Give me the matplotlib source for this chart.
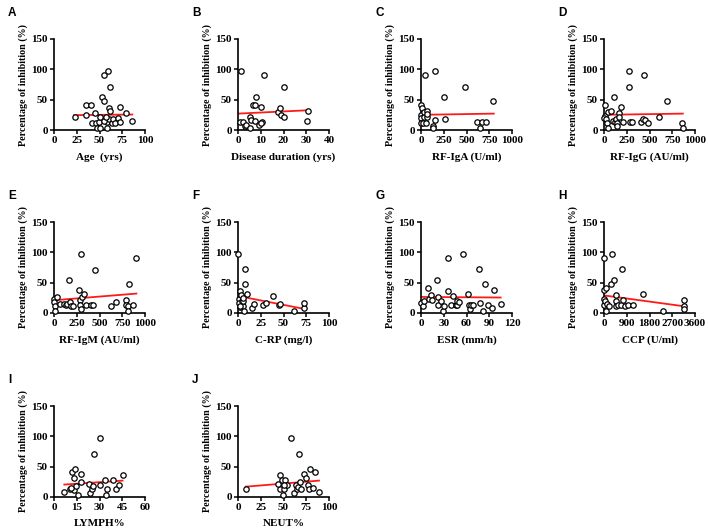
import matplotlib as mpl
mpl.use('Agg')
import matplotlib.pyplot as plt

# panel letters and x-axis labels
letters = ['A', 'B', 'C', 'D', 'E', 'F', 'G', 'H', 'I', 'J']
xlabels = ['Age  (yrs)', 'Disease duration (yrs)', 'RF-IgA (U/ml)', 'RF-IgG (AU/ml)',
           'RF-IgM (AU/ml)', 'C-RP (mg/l)', 'ESR (mm/h)', 'CCP (U/ml)', 'LYMPH%', 'NEUT%']
xticks = [[0, 25, 50, 75, 100], [0, 10, 20, 30, 40], [0, 250, 500, 750, 1000],
          [0, 250, 500, 750, 1000], [0, 250, 500, 750, 1000], [0, 25, 50, 75, 100],
          [0, 30, 60, 90, 120], [0, 900, 1800, 2700, 3600], [0, 15, 30, 45, 60],
          [0, 25, 50, 75, 100]]

# data (x = clinical parameter, y = % inhibition)
age_x = [23, 35, 35, 41, 42, 45, 46, 47, 49, 50, 51, 53, 55, 55, 59, 61, 60, 61, 57, 58,
         58, 60, 64, 65, 67, 70, 72, 73, 79, 86, 55, 57]
age_y = [22, 24, 41, 41, 12, 28, 12, 4, 13, 22, 3, 54, 48, 90, 97, 71, 37, 31, 19, 14,
         4, 18, 12, 18, 12, 19, 38, 14, 28, 15, 15, 21]
dur_x = [1.2, 1, 2, 3.2, 3.5, 5.3, 5.6, 5.3, 6.7, 7.4, 8.1, 7.4, 9.3, 10.3, 10.6, 10.3,
         11.3, 17.5, 18.4, 18.7, 20.3, 20.3, 30.6, 30.4]
dur_y = [97, 13, 13, 7, 8, 22, 16, 4, 42, 41, 54, 15, 8, 38, 14, 11, 90, 29, 36, 24, 21,
         71, 31, 15]
iga_x = [0, 7, 0, 0, 0, 18, 33, 33, 44, 51, 62, 62, 69, 131, 135, 153, 153, 255, 263,
         485, 613, 650, 672, 719, 796]
iga_y = [41, 37, 24, 20, 11, 11, 21, 29, 90, 11, 22, 32, 27, 7, 3, 17, 97, 54, 18, 71,
         13, 3, 13, 14, 47]
igg_x = [11, 11, 4, 22, 29, 40, 40, 76, 94, 109, 120, 134, 141, 141, 163, 188, 210, 170,
         272, 275, 286, 312, 402, 428, 438, 453, 482, 609, 688, 855, 866]
igg_y = [41, 23, 20, 18, 12, 4, 29, 31, 15, 54, 13, 18, 12, 7, 28, 38, 14, 21, 71, 97,
         14, 14, 13, 18, 90, 16, 12, 22, 47, 12, 4]
igm_x = [0, 4, 11, 11, 29, 65, 109, 127, 138, 164, 175, 189, 204, 273, 284, 291, 298,
         302, 309, 327, 353, 404, 433, 447, 629, 680, 796, 793, 818, 829, 811, 873, 905]
igm_y = [23, 18, 12, 3, 27, 15, 15, 14, 15, 54, 18, 12, 12, 38, 22, 14, 7, 98, 27, 32,
         14, 14, 14, 71, 11, 18, 22, 14, 11, 47, 3, 14, 90]
crp_x = [0, 1, 2, 1, 2, 3, 4, 5, 6, 7, 8, 8, 10, 15, 18, 27, 31, 38, 45, 46, 62, 72, 72,
         2, 5]
crp_y = [97, 23, 36, 16, 10, 29, 20, 11, 19, 4, 72, 47, 32, 9, 15, 14, 16, 28, 14, 15, 4,
         8, 16, 11, 25]
esr_x = [0, 2, 4, 9, 10, 13, 15, 21, 22, 22, 27, 29, 30, 35, 36, 39, 42, 46, 47, 48, 50,
         55, 62, 63, 65, 66, 69, 77, 78, 82, 85, 88, 93, 96, 105]
esr_y = [16, 12, 20, 41, 23, 29, 22, 54, 27, 13, 20, 4, 12, 36, 90, 14, 28, 13, 14, 20,
         18, 97, 31, 13, 7, 13, 14, 72, 16, 3, 47, 13, 9, 38, 15]
ccp_x = [0, 0, 0, 0, 65, 40, 130, 65, 210, 290, 314, 393, 458, 458, 471, 563, 654, 694,
         759, 838, 942, 1139, 1532, 2343, 3168, 3180, 3168]
ccp_y = [90, 38, 23, 14, 41, 19, 15, 3, 11, 47, 97, 54, 30, 20, 12, 13, 14, 73, 22, 12,
         14, 13, 31, 4, 21, 12, 7]
lym_x = [6.8, 10.3, 12, 13.8, 13.3, 13.1, 14.8, 15.9, 17.7, 17.5, 23.4, 24, 24.9, 25.8,
         26.2, 30.6, 30.3, 33.6, 34, 34.9, 39, 40.6, 42.6, 45.2, 10.9]
lym_y = [9, 14, 41, 46.5, 31, 12, 17.5, 2.7, 38, 24, 21, 6.6, 13, 17.5, 71, 97, 20, 28,
         2.7, 13.7, 28, 12.6, 19, 36.7, 15]
neu_x = [8.5, 46, 47, 48, 46, 49, 50, 51.5, 54, 58, 62, 64, 65, 66, 67, 68, 69, 73, 75,
         77, 77.5, 79, 82, 85, 89, 44, 50]
neu_y = [13.7, 37, 20, 28, 14, 3, 14, 28, 20, 97, 7, 20, 14, 16, 71, 25, 14, 38, 31, 20,
         14, 46.5, 15, 41, 9, 21, 20]

xs = [age_x, dur_x, iga_x, igg_x, igm_x, crp_x, esr_x, ccp_x, lym_x, neu_x]
ys = [age_y, dur_y, iga_y, igg_y, igm_y, crp_y, esr_y, ccp_y, lym_y, neu_y]

# regression line end values
fit_x0 = [22, 0, 0, 0, 0, 0, 0, 0, 6.8, 8.5]
fit_x1 = [86, 30.5, 800, 866, 905, 72, 105, 3180, 45.2, 89]
fit_y0 = [24.5, 27, 25, 25, 21, 28, 26.5, 29, 20.5, 17]
fit_y1 = [25.5, 32.5, 27, 27, 32, 7, 25.5, 11, 27, 27]

lefts = [54, 238, 421, 604]
tops = [39, 222, 406]
W, H = 708, 529

fig = plt.figure(figsize=(7.08, 5.29), dpi=100)
serif = 'Liberation Serif'

for i in range(10):
    r, c = divmod(i, 4)
    ax = fig.add_axes([lefts[c] / W, 1 - (tops[r] + 91) / H, 91 / W, 91 / H])
    ax.plot([fit_x0[i], fit_x1[i]], [fit_y0[i], fit_y1[i]], '-', color='#ff1a1a', lw=1.3,
            zorder=2)
    ax.scatter(xs[i], ys[i], s=15, facecolors='white', edgecolors='black', linewidths=0.9,
               clip_on=False, zorder=3)
    ax.set_xlim(xticks[i][0], xticks[i][-1])
    ax.set_ylim(0, 150)
    ax.set_xticks(xticks[i])
    ax.set_yticks([0, 50, 100, 150])
    for s in ['top', 'right']:
        ax.spines[s].set_visible(False)
    for s in ['left', 'bottom']:
        ax.spines[s].set_linewidth(1.2)
    ax.tick_params(direction='out', length=3, width=1.1, pad=1.5)
    for lab in ax.get_xticklabels() + ax.get_yticklabels():
        lab.set_fontfamily(serif)
        lab.set_fontweight('bold')
        lab.set_fontsize(8)
    ax.set_xlabel(xlabels[i], fontfamily=serif, fontweight='bold', fontsize=8, labelpad=5)
    ax.set_ylabel('Percentage of inhibition (%)', fontfamily=serif, fontweight='bold',
                  fontsize=7.2, labelpad=2)
    fig.text((lefts[c] - 46) / W, 1 - (tops[r] - 26) / H, letters[i],
             fontfamily='Liberation Sans', fontweight='bold', fontsize=8.5,
             va='center', ha='left')

fig.savefig('out.png', dpi=100)
